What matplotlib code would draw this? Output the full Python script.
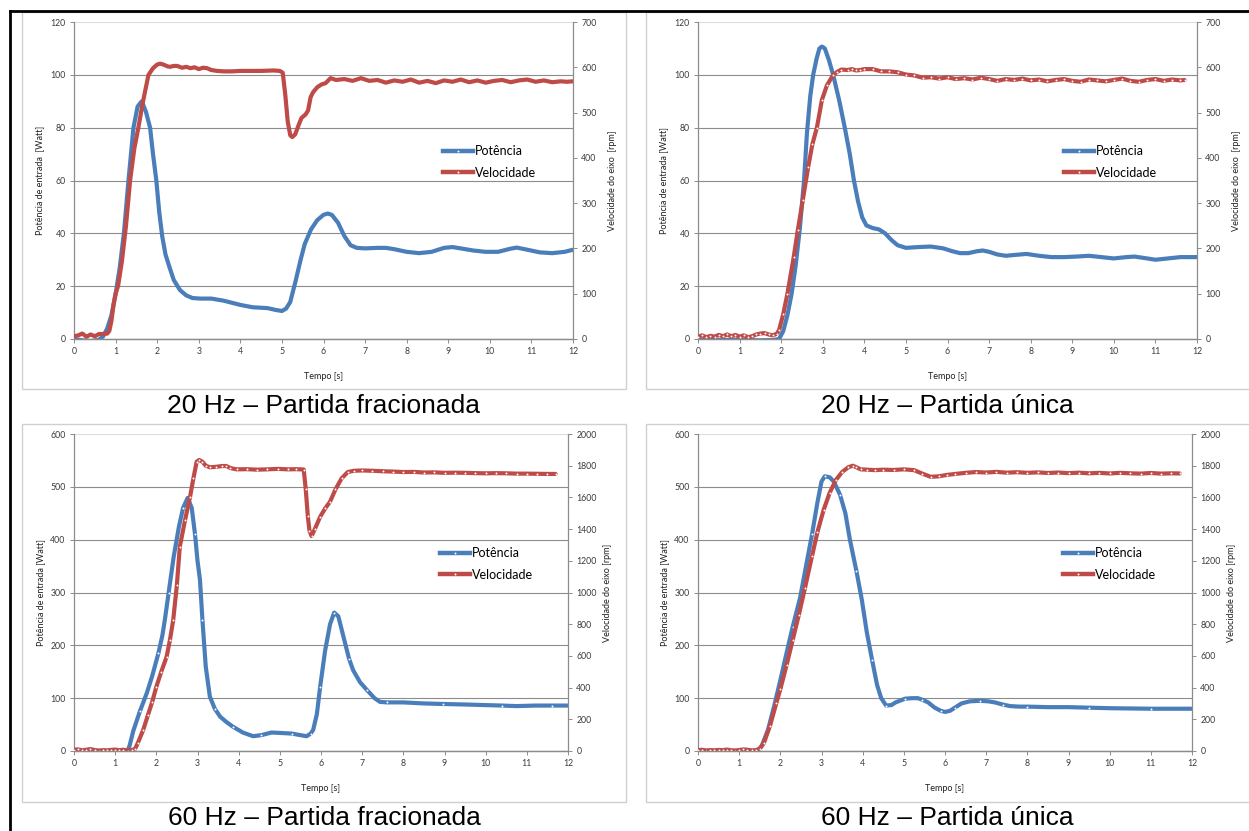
import matplotlib
matplotlib.use("Agg")
import matplotlib.pyplot as plt
from matplotlib.lines import Line2D
from matplotlib.patches import Rectangle

plt.rcParams['font.family'] = ['Lato', 'DejaVu Sans']

BLUE = '#4a7ebb'
RED = '#be4b48'
GRID = '#8c8c8c'
TXT = '#3a3a3a'

# ---------------- 20 Hz - partida fracionada ----------------
t_pot_20f = [0.0, 0.2, 0.4, 0.6, 0.7, 0.8, 0.9, 1.0, 1.1, 1.2, 1.31, 1.43, 1.53, 1.63, 1.73,
             1.83, 1.9, 1.98, 2.05, 2.12, 2.2, 2.3, 2.4, 2.55, 2.7, 2.85, 3.04, 3.3, 3.6, 3.8,
             4.0, 4.3, 4.65, 4.85, 5.0, 5.1, 5.2, 5.33, 5.45, 5.55, 5.7, 5.85, 6.0, 6.1, 6.2,
             6.35, 6.5, 6.65, 6.8, 7.0, 7.3, 7.5, 7.7, 8.0, 8.3, 8.6, 8.9, 9.1, 9.3, 9.6, 9.9,
             10.2, 10.5, 10.65, 10.9, 11.2, 11.5, 11.8, 12.0]
pot_20f = [0.0, -0.5, -0.8, -0.3, 1, 4, 9, 17, 27, 40, 60, 80, 88, 90, 86,
           80, 70, 60, 48, 39, 32, 27, 22.3, 18.5, 16.5, 15.5, 15.3, 15.3, 14.5, 13.7,
           12.9, 12.0, 11.7, 11.0, 10.6, 11.5, 14, 22, 30, 36, 41.5, 45, 47, 47.5, 47,
           44, 39, 35.5, 34.5, 34.3, 34.5, 34.5, 34, 33, 32.5, 33, 34.5, 34.8, 34.3, 33.5, 33,
           33, 34.2, 34.6, 33.8, 32.8, 32.5, 33, 33.8]
t_vel_20f = [0.0, 0.1, 0.2, 0.3, 0.4, 0.5, 0.6, 0.7, 0.8, 0.85, 0.9, 0.95, 1.0, 1.06, 1.15,
             1.25, 1.35, 1.45, 1.55, 1.65, 1.79, 1.9, 2.0, 2.07, 2.15, 2.25, 2.31, 2.4, 2.48,
             2.6, 2.7, 2.8, 2.9, 3.0, 3.1, 3.2, 3.3, 3.44, 3.6, 3.8, 4.0, 4.5, 4.8, 4.95, 5.02,
             5.08, 5.14, 5.2, 5.25, 5.32, 5.4, 5.47, 5.57, 5.63, 5.69, 5.75, 5.85, 5.95, 6.05,
             6.17, 6.3, 6.5, 6.7, 6.9, 7.1, 7.3, 7.5, 7.7, 7.9, 8.1, 8.3, 8.5, 8.7, 8.9, 9.1,
             9.3, 9.5, 9.7, 9.9, 10.1, 10.3, 10.5, 10.7, 10.9, 11.1, 11.3, 11.5, 11.7, 11.85, 12.0]
vel_20f = [6, 8, 12, 5, 10, 6, 11, 11, 12, 18, 40, 75, 100, 117, 170,
           250, 351, 420, 468, 520, 583, 598, 606, 608, 606, 602, 601, 603, 603,
           599, 601, 598, 600, 596, 599, 598, 594, 592, 591, 591, 592, 592, 593, 592, 588,
           540, 480, 450, 446, 452, 472, 488, 496, 505, 534, 545, 556, 562, 565,
           576, 572, 574, 570, 576, 570, 572, 566, 571, 568, 573, 566, 570, 565, 571, 568,
           573, 567, 571, 566, 570, 572, 567, 571, 573, 568, 571, 567, 569, 568, 569]

# ---------------- 20 Hz - partida unica ----------------
t_pot_20u = [0.0, 0.5, 1.0, 1.5, 1.8, 1.95, 2.05, 2.15, 2.25, 2.35, 2.45, 2.55, 2.62, 2.7,
             2.77, 2.85, 2.92, 2.98, 3.05, 3.15, 3.25, 3.4, 3.53, 3.65, 3.75, 3.85, 3.95, 4.05,
             4.2, 4.35, 4.5, 4.65, 4.8, 5.0, 5.3, 5.6, 5.9, 6.1, 6.3, 6.5, 6.7, 6.85, 7.0, 7.2,
             7.4, 7.6, 7.9, 8.2, 8.5, 8.8, 9.1, 9.4, 9.7, 10.0, 10.3, 10.5, 10.8, 11.0, 11.3,
             11.6, 12.0]
pot_20u = [-0.3, -0.4, -0.3, -0.5, -0.4, 0, 3, 9, 17, 28, 42, 60, 78, 92,
           100, 106, 110, 110.7, 110, 105.5, 100, 90, 80, 70, 60, 52, 46, 43,
           42, 41.5, 40, 37.5, 35.5, 34.5, 34.8, 35, 34.3, 33.3, 32.5, 32.5, 33.2, 33.5, 33, 32,
           31.5, 31.8, 32.2, 31.5, 31, 31, 31.2, 31.5, 31, 30.5, 31, 31.2, 30.5, 30, 30.5,
           31, 31]
t_vel_20u = [0.0, 0.1, 0.2, 0.3, 0.4, 0.5, 0.6, 0.7, 0.8, 0.9, 1.0, 1.1, 1.2, 1.3, 1.4, 1.5,
             1.6, 1.7, 1.8, 1.9, 1.95, 2.05, 2.15, 2.3, 2.4, 2.52, 2.65, 2.75, 2.86, 2.98, 3.1,
             3.25, 3.35, 3.45, 3.6, 3.7, 3.8, 3.9, 4.0, 4.2, 4.4, 4.6, 4.8, 5.0, 5.2, 5.4, 5.6,
             5.8, 6.0, 6.2, 6.4, 6.6, 6.8, 7.0, 7.2, 7.4, 7.6, 7.8, 8.0, 8.2, 8.4, 8.6, 8.8,
             9.0, 9.2, 9.4, 9.6, 9.8, 10.0, 10.2, 10.4, 10.6, 10.8, 11.0, 11.2, 11.4, 11.6, 11.7]
vel_20u = [5, 8, 4, 7, 5, 9, 6, 10, 6, 9, 5, 8, 4, 6, 10, 12,
           13, 10, 8, 12, 20, 55, 100, 180, 240, 307, 380, 430, 467, 528, 560,
           583, 590, 595, 594, 596, 593, 594, 596, 596, 591, 591, 589, 584, 582, 577, 578,
           575, 578, 574, 576, 573, 577, 574, 570, 574, 572, 575, 571, 573, 569, 572, 574,
           570, 568, 573, 571, 569, 572, 575, 570, 568, 572, 574, 570, 573, 571, 572]

# ---------------- 60 Hz - partida fracionada ----------------
t_pot_60f = [0.0, 0.5, 1.0, 1.3, 1.35, 1.44, 1.6, 1.77, 1.9, 2.05, 2.15, 2.21, 2.3, 2.42,
             2.55, 2.65, 2.76, 2.86, 2.94, 3.0, 3.06, 3.12, 3.2, 3.3, 3.42, 3.55, 3.7, 3.86,
             4.1, 4.35, 4.55, 4.8, 5.05, 5.29, 5.5, 5.65, 5.75, 5.81, 5.9, 5.98, 6.1, 6.22,
             6.32, 6.42, 6.55, 6.68, 6.78, 6.95, 7.11, 7.3, 7.43, 7.6, 8.0, 8.5, 8.96, 9.5,
             9.94, 10.4, 10.75, 11.2, 11.6, 12.0]
pot_60f = [0, 0, 0, 0, 10, 38, 75, 110, 142, 185, 220, 250, 300, 367,
           425, 460, 479, 460, 410, 360, 324, 248, 160, 103, 80, 65, 55, 46,
           35, 28, 30, 35, 34, 33, 30, 28, 33, 40, 70, 122, 190, 240,
           262, 255, 215, 175, 153, 130, 116, 100, 93, 92, 92, 90, 89, 88,
           87, 86, 85, 86, 86, 86]
t_vel_60f = [0.0, 0.1, 0.2, 0.3, 0.4, 0.5, 0.6, 0.7, 0.8, 0.9, 1.0, 1.1, 1.2, 1.3, 1.4, 1.48,
             1.55, 1.68, 1.8, 1.9, 2.0, 2.12, 2.25, 2.33, 2.41, 2.5, 2.57, 2.7, 2.82, 2.9, 2.98,
             3.04, 3.12, 3.2, 3.3, 3.45, 3.6, 3.7, 3.8, 3.95, 4.2, 4.45, 4.7, 4.95, 5.2, 5.4,
             5.58, 5.63, 5.68, 5.72, 5.77, 5.85, 5.98, 6.1, 6.22, 6.35, 6.5, 6.65, 6.8, 7.0,
             7.25, 7.5, 7.75, 8.0, 8.25, 8.5, 8.75, 9.0, 9.25, 9.5, 9.75, 10.0, 10.25, 10.5,
             10.75, 11.0, 11.25, 11.5, 11.7]
vel_60f = [8, 10, 4, 8, 12, 6, 3, 5, 4, 7, 9, 5, 8, 3, 6, 12,
           50, 132, 230, 310, 405, 500, 595, 700, 826, 1050, 1289, 1460, 1604, 1720, 1825,
           1836, 1825, 1800, 1790, 1793, 1798, 1798, 1785, 1777, 1778, 1775, 1777, 1780, 1777, 1778,
           1776, 1650, 1480, 1390, 1356, 1400, 1478, 1530, 1573, 1650, 1720, 1760, 1768, 1770,
           1768, 1765, 1763, 1760, 1761, 1757, 1758, 1755, 1756, 1755, 1753, 1752, 1753, 1752,
           1750, 1750, 1749, 1748, 1748]

# ---------------- 60 Hz - partida unica ----------------
t_pot_60u = [0.0, 0.5, 1.0, 1.45, 1.55, 1.7, 1.85, 2.0, 2.15, 2.3, 2.48, 2.6, 2.77, 2.9, 3.0,
             3.08, 3.2, 3.3, 3.45, 3.58, 3.69, 3.85, 3.98, 4.1, 4.23, 4.35, 4.45, 4.57, 4.7,
             4.8, 5.03, 5.2, 5.34, 5.45, 5.59, 5.75, 5.9, 6.0, 6.12, 6.24, 6.4, 6.6, 6.85, 7.05,
             7.21, 7.4, 7.58, 7.8, 8.0, 8.5, 9.0, 9.5, 10.0, 10.5, 11.0, 11.5, 12.0]
pot_60u = [0, 0, 0, 0, 10, 40, 85, 134, 185, 235, 290, 340, 410, 470, 510,
           520, 518, 510, 485, 450, 400, 340, 286, 225, 172, 125, 100, 86, 87,
           92, 99, 100, 100, 97, 92, 82, 76, 74, 76, 82, 90, 94, 95, 94,
           92, 88, 85, 84, 84, 83, 83, 82, 81, 80.5, 80, 80, 80]
t_vel_60u = [0.0, 0.1, 0.2, 0.3, 0.4, 0.5, 0.6, 0.7, 0.8, 0.9, 1.0, 1.1, 1.2, 1.3, 1.4, 1.5,
             1.6, 1.75, 1.9, 2.0, 2.15, 2.3, 2.45, 2.6, 2.77, 2.9, 3.05, 3.2, 3.35, 3.5, 3.65,
             3.76, 3.85, 3.95, 4.1, 4.3, 4.5, 4.75, 5.0, 5.25, 5.45, 5.65, 5.85, 6.05,
             6.25, 6.5, 6.75, 7.0, 7.25, 7.5, 7.75, 8.0, 8.25, 8.5, 8.75, 9.0, 9.25, 9.5, 9.75,
             10.0, 10.25, 10.5, 10.75, 11.0, 11.25, 11.5, 11.7]
vel_60u = [5, 8, 3, 6, 4, 7, 5, 9, 5, 3, 6, 10, 8, 4, 5, 15,
           50, 160, 300, 390, 540, 700, 860, 1030, 1230, 1380, 1520, 1630, 1710, 1760, 1790,
           1800, 1790, 1777, 1775, 1772, 1775, 1773, 1777, 1772, 1750, 1730, 1733, 1742,
           1748, 1755, 1760, 1757, 1761, 1756, 1759, 1755, 1758, 1754, 1757, 1753, 1756, 1752, 1755,
           1751, 1755, 1752, 1750, 1754, 1750, 1752, 1751]

W = 1249.0
H = 831.0


def fx(px):
    return px / W


def fy(py):
    return 1 - py / H


def draw_panel(fig, box, t_p, p, t_v, v, lmax, lstep, rmax, rstep,
               leg_px, lab_l, lab_r, blue_dots, red_dots):
    x0, x1, ytop, ybot = box
    ax = fig.add_axes([fx(x0), fy(ybot), fx(x1) - fx(x0), fy(ytop) - fy(ybot)])
    ax2 = ax.twinx()

    kw_b = dict(color=BLUE, lw=3.0, solid_capstyle='round', solid_joinstyle='round')
    if blue_dots:
        kw_b.update(marker='o', ms=1.4, mfc='white', mec='white', mew=0, markevery=3)
    ax.plot(t_p, p, **kw_b)
    kw_r = dict(color=RED, lw=3.0, solid_capstyle='round', solid_joinstyle='round')
    if red_dots:
        kw_r.update(marker='o', ms=1.4, mfc='white', mec='white', mew=0)
    ax2.plot(t_v, v, **kw_r)

    ax.set_xlim(0, 12)
    ax.set_ylim(0, lmax)
    ax2.set_ylim(0, rmax)
    ax.set_xticks(range(0, 13))
    ax.set_yticks(range(0, lmax + 1, lstep))
    ax2.set_yticks(range(0, rmax + 1, rstep))

    ax.grid(True, axis='y', color=GRID, lw=0.8)
    ax.set_axisbelow(True)
    ax.get_ygridlines()[-1].set_color('#dcdcdc')

    for a in (ax, ax2):
        a.spines['top'].set_visible(False)
        for s in ('left', 'right', 'bottom'):
            a.spines[s].set_color(GRID)
            a.spines[s].set_linewidth(0.9)
        a.tick_params(labelsize=6.3, colors=GRID, labelcolor=TXT, length=3, width=0.7, pad=3)
    ax.spines['right'].set_visible(False)
    ax2.spines['left'].set_visible(False)

    ax.set_xlabel('Tempo [s]', fontsize=6.5, color='#202020')
    ax.xaxis.set_label_coords(0.5, -0.105)
    ax.set_ylabel(lab_l, fontsize=6.5, color='#202020', va='center')
    ax.yaxis.set_label_coords(-0.068, 0.5)
    ax2.set_ylabel(lab_r, fontsize=6.5, color='#202020', va='center', rotation=90)
    ax2.yaxis.set_label_coords(1.079, 0.5)

    handles = [Line2D([], [], color=BLUE, lw=3.2, marker='o', ms=1.4, mfc='white', mew=0),
               Line2D([], [], color=RED, lw=3.2, marker='o', ms=1.4, mfc='white', mew=0)]
    ax2.legend(handles, ['Potência', 'Velocidade'], loc='center left',
               bbox_to_anchor=(fx(leg_px[0]), fy(leg_px[1])),
               bbox_transform=fig.transFigure, frameon=False, fontsize=9,
               handlelength=2.4, handletextpad=0.15, labelspacing=0.75,
               borderpad=0, borderaxespad=0, numpoints=1)
    return ax, ax2


fig = plt.figure(figsize=(W / 100, H / 100), dpi=100)

# panel frames and outer border
for (bx0, by0, bx1, by1) in [(22, 12, 626, 389), (646, 12, 1252, 389),
                             (22, 424, 626, 802), (646, 424, 1252, 802)]:
    fig.add_artist(Rectangle((fx(bx0), fy(by1)), fx(bx1) - fx(bx0), fy(by0) - fy(by1),
                             transform=fig.transFigure, fill=False, ec='#d0d0d0', lw=1.0))
fig.add_artist(Line2D([fx(10), 1.0], [fy(11), fy(11)], transform=fig.transFigure,
                      color='black', lw=2.0))
fig.add_artist(Line2D([fx(10), fx(10)], [fy(11), 0.0], transform=fig.transFigure,
                      color='black', lw=2.0))

draw_panel(fig, (74, 573, 22, 339), t_pot_20f, pot_20f, t_vel_20f, vel_20f,
           120, 20, 700, 100, (443, 162), 'Potência de entrada  [Watt]',
           'Velocidade do eixo  [rpm]', False, False)
draw_panel(fig, (698, 1197, 22, 339), t_pot_20u, pot_20u, t_vel_20u, vel_20u,
           120, 20, 700, 100, (1064, 162), 'Potência de entrada [Watt]',
           'Velocidade do eixo  [rpm]', False, True)
draw_panel(fig, (74, 568, 434, 751), t_pot_60f, pot_60f, t_vel_60f, vel_60f,
           600, 100, 2000, 200, (440, 564), 'Potência de entrada [Watt]',
           'Velocidade do eixo [rpm]', True, True)
draw_panel(fig, (698, 1192, 434, 751), t_pot_60u, pot_60u, t_vel_60u, vel_60u,
           600, 100, 2000, 200, (1063, 564), 'Potência de entrada [Watt]',
           'Velocidade do eixo [rpm]', True, True)

cap = dict(fontsize=19, family='Liberation Sans', ha='center', va='center', color='black')
fig.text(fx(324), fy(406), '20 Hz – Partida fracionada', **cap)
fig.text(fx(947), fy(406), '20 Hz – Partida única', **cap)
fig.text(fx(324), fy(818), '60 Hz – Partida fracionada', **cap)
fig.text(fx(947), fy(818), '60 Hz – Partida única', **cap)

fig.savefig('out.png', dpi=100)
